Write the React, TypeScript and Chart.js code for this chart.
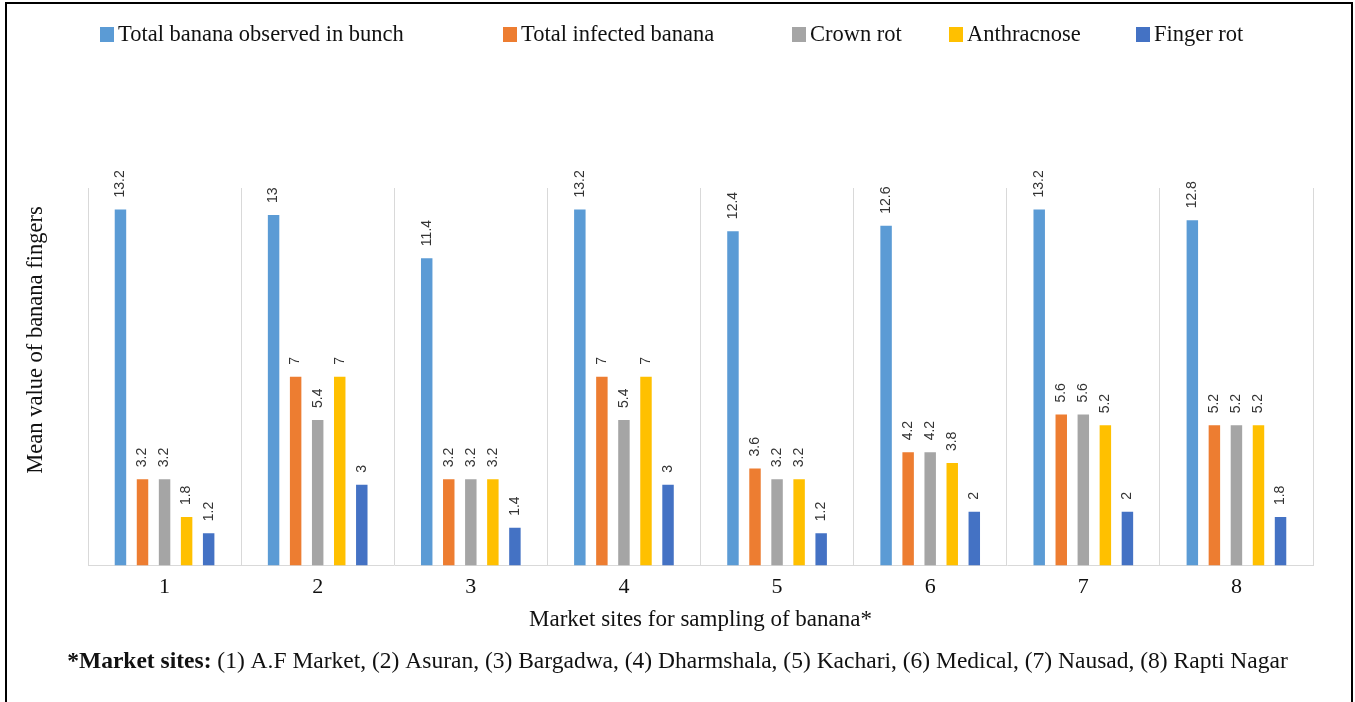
import React, { useEffect, useRef } from "react";
import { Chart, registerables } from "chart.js";

Chart.register(...registerables);

// ---- data ----
const sites = ["1", "2", "3", "4", "5", "6", "7", "8"];
const totalObserved = [13.2, 13, 11.4, 13.2, 12.4, 12.6, 13.2, 12.8];
const totalInfected = [3.2, 7, 3.2, 7, 3.6, 4.2, 5.6, 5.2];
const crownRot = [3.2, 5.4, 3.2, 5.4, 3.2, 4.2, 5.6, 5.2];
const anthracnose = [1.8, 7, 3.2, 7, 3.2, 3.8, 5.2, 5.2];
const fingerRot = [1.2, 3, 1.4, 3, 1.2, 2, 2, 1.8];

const seriesNames = [
  "Total banana observed in bunch",
  "Total infected banana",
  "Crown rot",
  "Anthracnose",
  "Finger rot",
];
const seriesColors = ["#5B9BD5", "#ED7D31", "#A5A5A5", "#FFC000", "#4472C4"];

const yTitle = "Mean value of banana fingers";
const xTitle = "Market sites for sampling of banana*";
const noteBold = "*Market sites:";
const noteText =
  " (1) A.F Market, (2) Asuran, (3) Bargadwa, (4) Dharmshala, (5) Kachari, (6) Medical, (7) Nausad, (8) Rapti Nagar";

// ---- layout (not data) ----
const legendX = [100, 503, 792, 949, 1136];
const SERIF = '"Liberation Serif", "Times New Roman", serif';
const SANS = '"Liberation Sans", Arial, sans-serif';

const decorPlugin = {
  id: "decor",
  afterDatasetsDraw(chart: any) {
    const ctx = chart.ctx as CanvasRenderingContext2D;
    ctx.save();
    ctx.font = `14px ${SANS}`;
    ctx.fillStyle = "#333";
    ctx.textAlign = "left";
    ctx.textBaseline = "middle";
    chart.data.datasets.forEach((ds: any, i: number) => {
      const meta = chart.getDatasetMeta(i);
      meta.data.forEach((el: any, j: number) => {
        const v = ds.data[j];
        ctx.save();
        ctx.translate(el.x, el.y - 12);
        ctx.rotate(-Math.PI / 2);
        ctx.fillText(String(v), 0, 0);
        ctx.restore();
      });
    });
    ctx.restore();
  },
  afterDraw(chart: any) {
    const ctx = chart.ctx as CanvasRenderingContext2D;
    ctx.save();
    // legend
    ctx.font = `22.5px ${SERIF}`;
    ctx.textAlign = "left";
    ctx.textBaseline = "middle";
    chart.data.datasets.forEach((ds: any, i: number) => {
      const x = legendX[i];
      ctx.fillStyle = ds.backgroundColor;
      ctx.fillRect(x, 27, 14, 15);
      ctx.fillStyle = "#111";
      ctx.fillText(ds.label, x + 18, 35);
    });
    // y title
    ctx.save();
    ctx.font = `22.5px ${SERIF}`;
    ctx.textAlign = "center";
    ctx.textBaseline = "middle";
    ctx.fillStyle = "#111";
    ctx.translate(36, 340);
    ctx.rotate(-Math.PI / 2);
    ctx.fillText(yTitle, 0, 0);
    ctx.restore();
    // footnote
    ctx.textBaseline = "alphabetic";
    ctx.textAlign = "left";
    ctx.font = `bold 23.5px ${SERIF}`;
    const wb = ctx.measureText(noteBold).width;
    ctx.font = `23.5px ${SERIF}`;
    const wr = ctx.measureText(noteText).width;
    const x0 = 677.5 - (wb + wr) / 2;
    ctx.fillStyle = "#111";
    ctx.font = `bold 23.5px ${SERIF}`;
    ctx.fillText(noteBold, x0, 668);
    ctx.font = `23.5px ${SERIF}`;
    ctx.fillText(noteText, x0 + wb, 668);
    ctx.restore();
  },
};

export default function App() {
  const ref = useRef<HTMLCanvasElement>(null);
  useEffect(() => {
    document.body.style.margin = "0";
    const seriesValues = [totalObserved, totalInfected, crownRot, anthracnose, fingerRot];
    const chart = new Chart(ref.current as HTMLCanvasElement, {
      type: "bar",
      data: {
        labels: sites,
        datasets: seriesValues.map((vals, i) => ({
          label: seriesNames[i],
          data: vals,
          backgroundColor: seriesColors[i],
          borderWidth: 0,
          categoryPercentage: 0.72,
          barPercentage: 0.52,
        })),
      },
      options: {
        responsive: false,
        animation: false,
        layout: { padding: { left: 88, right: 42, top: 188, bottom: 71 } },
        plugins: {
          legend: { display: false },
          tooltip: { enabled: false },
          title: { display: false },
        },
        scales: {
          x: {
            grid: { offset: true, color: "#d9d9d9", lineWidth: 1, drawTicks: false },
            border: { color: "#d9d9d9", width: 1 },
            ticks: { font: { family: SERIF, size: 22 }, color: "#111", padding: 8 },
            title: {
              display: true,
              text: xTitle,
              font: { family: SERIF, size: 23, lineHeight: 1 },
              color: "#111",
              padding: { top: 0, bottom: 0 },
            },
          },
          y: { display: false, min: 0, max: 14 },
        },
      },
      plugins: [decorPlugin],
    } as any);
    return () => {
      chart.destroy();
    };
  }, []);
  return (
    <div
      style={{
        position: "fixed",
        left: 0,
        top: 0,
        width: 1355,
        height: 702,
        background: "#fff",
        overflow: "hidden",
      }}
    >
      <div
        style={{
          position: "absolute",
          left: 5,
          top: 2,
          width: 1344,
          height: 740,
          borderLeft: "2px solid #000",
          borderTop: "2px solid #000",
          borderRight: "2px solid #000",
        }}
      />
      <canvas ref={ref} width={1355} height={702} style={{ position: "absolute", left: 0, top: 0 }} />
    </div>
  );
}
